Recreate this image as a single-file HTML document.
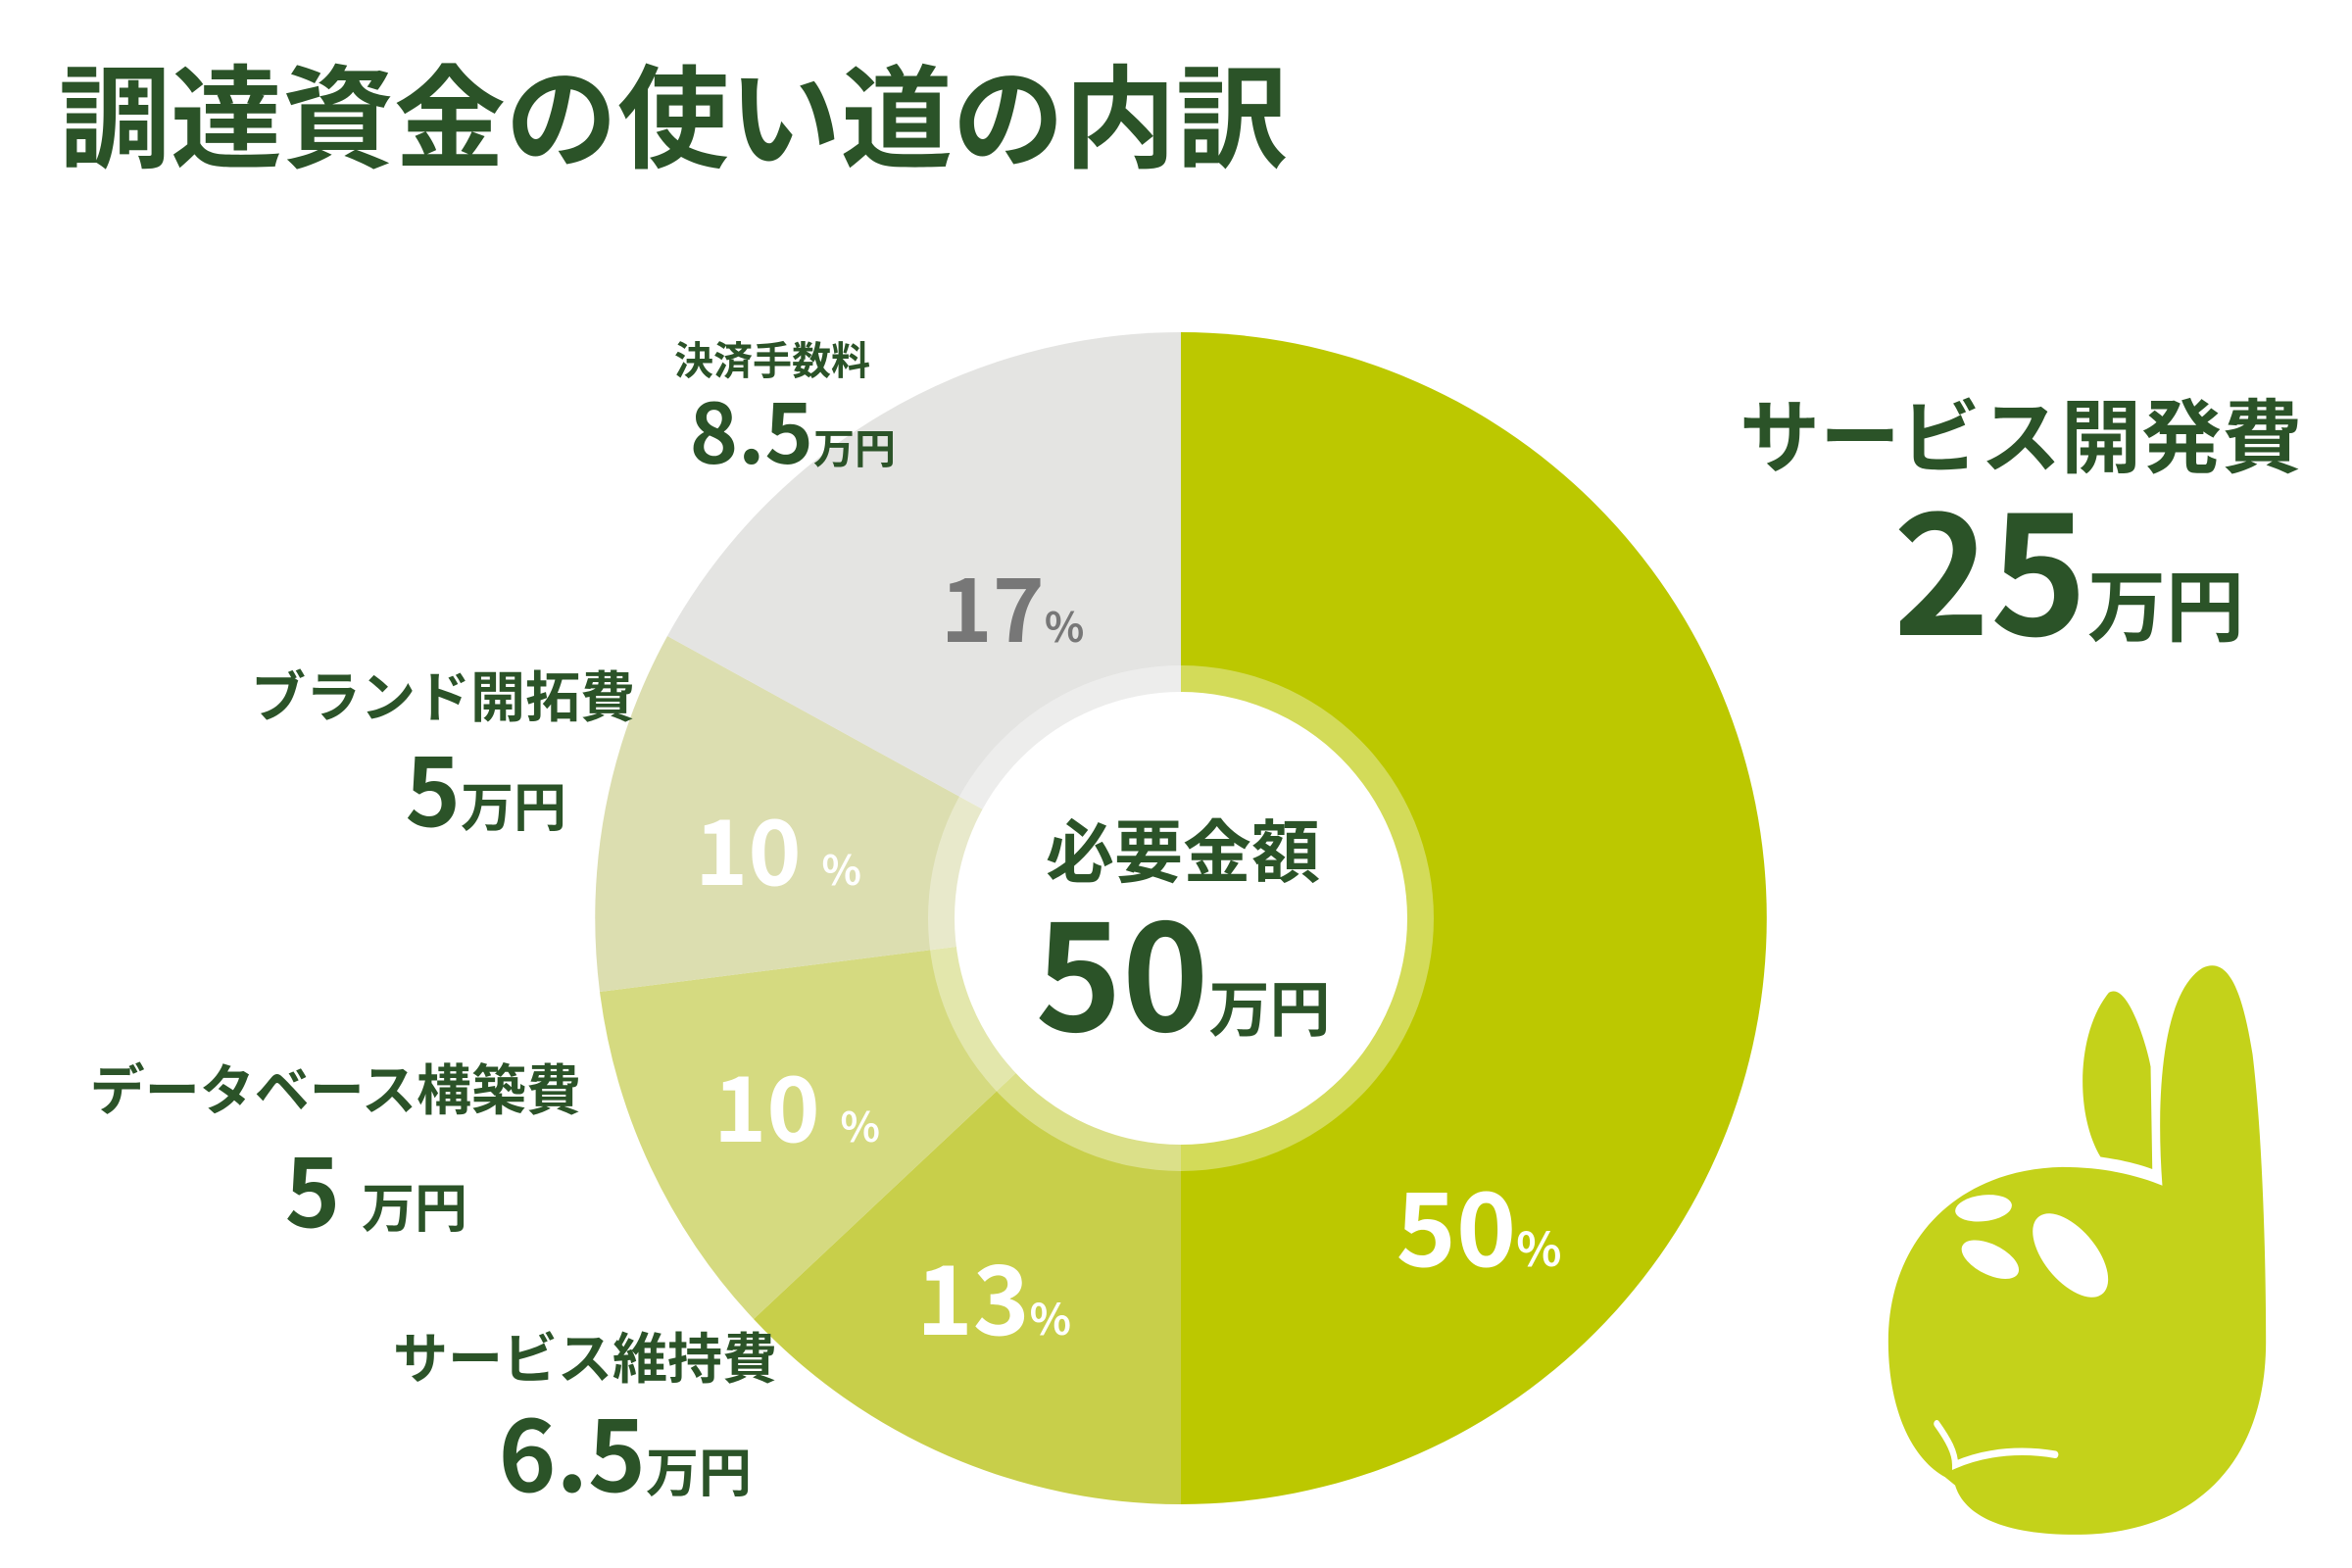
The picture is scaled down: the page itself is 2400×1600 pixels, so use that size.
<!DOCTYPE html>
<html><head><meta charset="utf-8"><style>
html,body{margin:0;padding:0;background:#fff}
svg{display:block}
text{font-family:"Liberation Sans","Noto Sans CJK JP",sans-serif;font-weight:bold}
.j{font-family:"Noto Sans CJK JP",sans-serif;font-weight:bold}
</style></head><body>
<svg width="2400" height="1600" viewBox="0 0 2400 1600" xmlns="http://www.w3.org/2000/svg">
<text class="j" x="60" y="162" font-size="114" fill="#2b5328">調達資金の使い道の内訳</text>

<g>
<path d="M1205,937 L1205,339 A598,598 0 0 1 1205,1535 Z" fill="#bcc800"/>
<path d="M1205,937 L1205,1535 A598,598 0 0 1 769,1346 Z" fill="#c8cf4a"/>
<path d="M1205,937 L769,1346 A598,598 0 0 1 612,1012 Z" fill="#d5da80"/>
<path d="M1205,937 L612,1012 A598,598 0 0 1 681,649 Z" fill="#dcdeb0"/>
<path d="M1205,937 L681,649 A598,598 0 0 1 1205,339 Z" fill="#e4e4e2"/>
<circle cx="1205" cy="937" r="258" fill="#fff" fill-opacity="0.35"/>
<circle cx="1205" cy="937" r="231" fill="#fff"/>
</g>

<g fill="#2b5328">
<text class="j" x="1207" y="865" font-size="70" text-anchor="middle" dominant-baseline="central">必要金額</text>
<text x="1207" y="1052" text-anchor="middle"><tspan font-size="150" class="j">50</tspan><tspan class="j" font-size="62">万円</tspan></text>

<text class="j" x="888" y="365" font-size="40" text-anchor="end" dominant-baseline="central">決済手数料</text>
<text x="914" y="473" text-anchor="end"><tspan class="j" font-size="84">8.5</tspan><tspan class="j" font-size="42">万円</tspan></text>

<text class="j" x="2349" y="440" font-size="82" text-anchor="end" dominant-baseline="central">サービス開発費</text>
<text x="2290" y="648" text-anchor="end"><tspan class="j" font-size="168">25</tspan><tspan class="j" font-size="80">万円</tspan></text>

<text class="j" x="648" y="708" font-size="56" text-anchor="end" dominant-baseline="central">ブランド開拓費</text>
<text x="578" y="843" text-anchor="end"><tspan class="j" font-size="96">5</tspan><tspan class="j" font-size="54">万円</tspan></text>

<text class="j" x="593" y="1109" font-size="56" text-anchor="end" dominant-baseline="central">データベース構築費</text>
<text x="477" y="1252" text-anchor="end"><tspan class="j" font-size="96">5 </tspan><tspan class="j" font-size="54">万円</tspan></text>

<text class="j" x="793" y="1383" font-size="56" text-anchor="end" dominant-baseline="central">サービス維持費</text>
<text x="767" y="1522" text-anchor="end"><tspan class="j" font-size="100">6.5</tspan><tspan class="j" font-size="54">万円</tspan></text>
</g>

<g text-anchor="middle">
<text x="1033" y="655" fill="#777"><tspan class="j" font-size="90">17</tspan><tspan class="j" font-size="42">%</tspan></text>
<text x="794" y="903" fill="#fff"><tspan class="j" font-size="92">10 </tspan><tspan class="j" font-size="42">%</tspan></text>
<text x="813" y="1165" fill="#fff"><tspan class="j" font-size="92">10 </tspan><tspan class="j" font-size="42">%</tspan></text>
<text x="1014" y="1362" fill="#fff"><tspan class="j" font-size="98">13</tspan><tspan class="j" font-size="44">%</tspan></text>
<text x="1509" y="1292" fill="#fff"><tspan class="j" font-size="104">50</tspan><tspan class="j" font-size="48">%</tspan></text>
</g>

<g transform="translate(1845,950) scale(0.341,0.419)">
<path fill="#c4d21a" d="M1060,620 C1040,400 1060,150 1180,90 C1260,60 1300,150 1330,300 C1360,500 1370,800 1370,1000 C1370,1300 1150,1470 800,1470 C600,1470 470,1430 440,1350 L410,1330 C300,1280 240,1150 240,1000 C240,750 450,580 760,575 C900,575 1000,600 1060,620 Z"/>
<path fill="#c4d21a" d="M875,550 C800,450 800,250 900,150 C960,120 1020,300 1025,330 L1030,580 C980,565 920,555 875,550 Z"/>
<ellipse cx="525" cy="675" rx="85" ry="32" transform="rotate(-5 525 675)" fill="#fff"/>
<ellipse cx="545" cy="800" rx="90" ry="38" transform="rotate(20 545 800)" fill="#fff"/>
<ellipse cx="785" cy="790" rx="135" ry="70" transform="rotate(40 785 790)" fill="#fff"/>
<path d="M385,1200 C420,1240 440,1270 440,1300 C540,1265 650,1262 740,1275" stroke="#fff" stroke-width="18" fill="none" stroke-linecap="round"/>
</g>
</svg>
</body></html>
